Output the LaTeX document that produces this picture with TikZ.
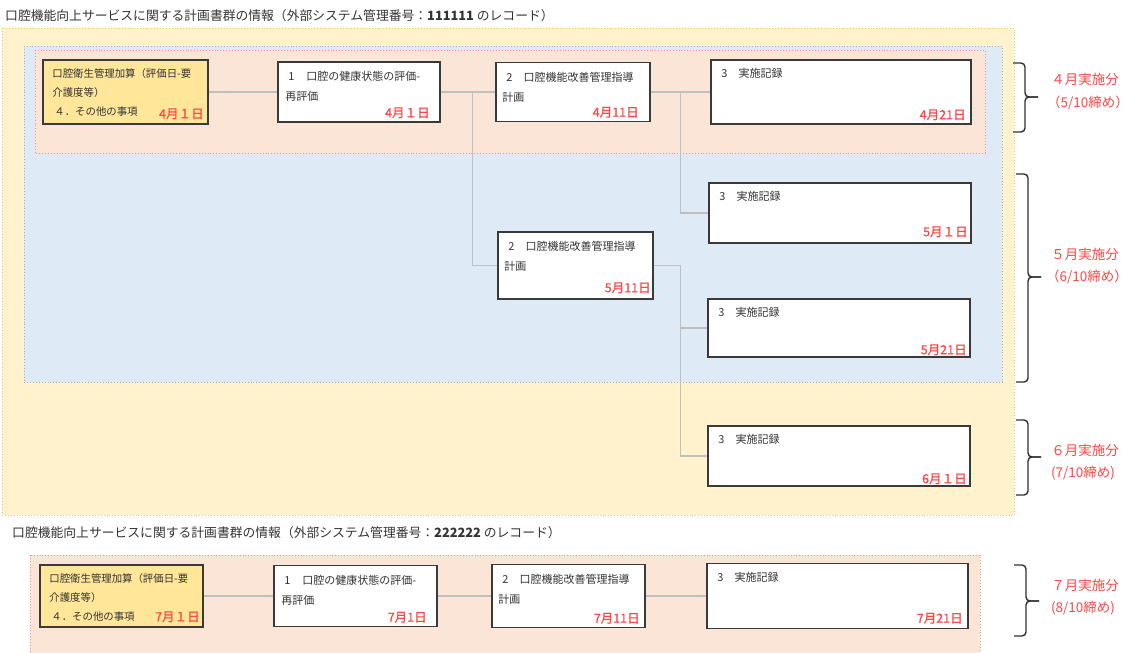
\documentclass[tikz,border=0pt]{standalone}
\usepackage{fontspec}
\setmainfont{Noto Sans CJK JP}
\newfontfamily\datefont{Noto Sans CJK JP}[FakeBold=0.6]
\definecolor{yregion}{HTML}{FFF2CC}
\definecolor{yregionb}{HTML}{F4C47C}
\definecolor{bregion}{HTML}{DEEAF6}
\definecolor{bregionb}{HTML}{9DB4CF}
\definecolor{pregion}{HTML}{FBE5D6}
\definecolor{pregionb}{HTML}{FF8F8F}
\definecolor{ynode}{HTML}{FFE699}
\definecolor{boxedge}{HTML}{3A3A3A}
\definecolor{connc}{HTML}{BFBFBF}
\definecolor{redc}{HTML}{FF4545}
\definecolor{txtc}{HTML}{333333}
\definecolor{bracec}{HTML}{303030}
\newcommand{\curlyb}[5]{% name, x, top, tip, bottom
  \coordinate (#1t) at (#2,#3);
  \coordinate (#1m) at (#2+25,#4);
  \coordinate (#1b) at (#2,#5);
  \draw[brc] (#1t) -| ([xshift=-13pt]#1m) -- (#1m);
  \draw[brc] (#1m) -- ([xshift=-13pt]#1m) |- (#1b);
}
\begin{document}
\begin{tikzpicture}[x=1pt,y=-1pt,
  region/.style={dotted, line width=0.9pt},
  wbox/.style={draw=boxedge, line width=1.6pt, fill=white, inner sep=0pt},
  ybox/.style={wbox, fill=ynode},
  conn/.style={draw=connc, line width=1.3pt},
  txt/.style={font=\fontsize{11}{20}\selectfont, text=txtc, align=left, inner sep=0pt, anchor=north west},
  ytxt/.style={txt, font=\fontsize{10.4}{19}\selectfont},
  datel/.style={font=\datefont\fontsize{12.5}{14}\selectfont, text=redc, inner sep=0pt, anchor=east},
  brc/.style={draw=bracec, line width=1.4pt, rounded corners=4pt},
  lbl/.style={font=\fontsize{13.5}{16}\selectfont, text=redc, inner sep=0pt},
  ttl/.style={font=\fontsize{12.8}{15}\selectfont, text=txtc, anchor=west, inner sep=0pt}
]
\useasboundingbox (0,0) rectangle (1136,653);
\clip (0,0) rectangle (1136,653);

% regions
\draw[region, draw=yregionb, fill=yregion] (2,28) rectangle (1014,515);
\draw[region, draw=bregionb, fill=bregion] (24,46) rectangle (1002,382);
\draw[region, draw=pregionb, fill=pregion] (35,50) rectangle (985,153);
\draw[region, draw=pregionb, fill=pregion] (30,555) rectangle (980,660);

% titles
\node[ttl] (t1) at (5,16) {口腔機能向上サービスに関する計画書群の情報（外部システム管理番号：\textbf{111111} のレコード）};
\node[ttl] (t2) at (12,533) {口腔機能向上サービスに関する計画書群の情報（外部システム管理番号：\textbf{222222} のレコード）};

% upper boxes
\node[ybox, minimum width=165pt, minimum height=64pt] (y1) at (125.5,92) {};
\node[wbox, minimum width=162pt, minimum height=60pt] (b1) at (359,92) {};
\node[wbox, minimum width=154pt, minimum height=59pt] (b2) at (573,92) {};
\node[wbox, minimum width=260pt, minimum height=64pt] (b3) at (841,92) {};
\node[wbox, minimum width=262pt, minimum height=60pt] (b3b) at (840,213) {};
\node[wbox, minimum width=155pt, minimum height=67pt] (b2b) at (575.5,265.5) {};
\node[wbox, minimum width=262pt, minimum height=58pt] (b3c) at (839,328) {};
\node[wbox, minimum width=262pt, minimum height=60pt] (b3d) at (839,456) {};

% lower boxes
\node[ybox, minimum width=163pt, minimum height=62pt] (y2) at (121.5,596) {};
\node[wbox, minimum width=163pt, minimum height=61pt] (c1) at (355.5,596) {};
\node[wbox, minimum width=153pt, minimum height=63pt] (c2) at (568.5,596) {};
\node[wbox, minimum width=261pt, minimum height=65pt] (c3) at (837.5,596) {};

% box texts
\node[ytxt] (y1x) at ([shift={(10,9)}]y1.north west) {口腔衛生管理加算（評価日-要\\介護度等）\\\hspace{2pt}４．その他の事項};
\node[txt] (b1x) at ([shift={(8,10)}]b1.north west) {\hspace{3pt}1\hspace{12pt}口腔の健康状態の評価-\\再評価};
\node[txt] (b2x) at ([shift={(7,10)}]b2.north west) {\hspace{4pt}2\hspace{11pt}口腔機能改善管理指導\\計画};
\node[txt] (b3x) at ([shift={(11,9)}]b3.north west) {3\hspace{11pt}実施記録};
\node[txt] (b3bx) at ([shift={(11,9)}]b3b.north west) {3\hspace{11pt}実施記録};
\node[txt] (b2bx) at ([shift={(7,10)}]b2b.north west) {\hspace{4pt}2\hspace{11pt}口腔機能改善管理指導\\計画};
\node[txt] (b3cx) at ([shift={(11,9)}]b3c.north west) {3\hspace{11pt}実施記録};
\node[txt] (b3dx) at ([shift={(11,9)}]b3d.north west) {3\hspace{11pt}実施記録};
\node[ytxt] (y2x) at ([shift={(10,9)}]y2.north west) {口腔衛生管理加算（評価日-要\\介護度等）\\\hspace{2pt}４．その他の事項};
\node[txt] (c1x) at ([shift={(8,10)}]c1.north west) {\hspace{3pt}1\hspace{12pt}口腔の健康状態の評価-\\再評価};
\node[txt] (c2x) at ([shift={(7,10)}]c2.north west) {\hspace{4pt}2\hspace{11pt}口腔機能改善管理指導\\計画};
\node[txt] (c3x) at ([shift={(11,9)}]c3.north west) {3\hspace{11pt}実施記録};

% dates
\node[datel] (y1d) at ([shift={(-5,-11)}]y1.south east) {4月１日};
\node[datel] (b1d) at ([shift={(-11,-10)}]b1.south east) {4月１日};
\node[datel] (b2d) at ([shift={(-12,-10)}]b2.south east) {4月11日};
\node[datel] (b3d1) at ([shift={(-6,-10)}]b3.south east) {4月21日};
\node[datel] (b3bd) at ([shift={(-4,-12)}]b3b.south east) {5月１日};
\node[datel] (b2bd) at ([shift={(-3,-12)}]b2b.south east) {5月11日};
\node[datel] (b3cd) at ([shift={(-4,-8)}]b3c.south east) {5月21日};
\node[datel] (b3dd) at ([shift={(-4,-8)}]b3d.south east) {6月１日};
\node[datel] (y2d) at ([shift={(-4,-11)}]y2.south east) {7月１日};
\node[datel] (c1d) at ([shift={(-11,-10)}]c1.south east) {7月1日};
\node[datel] (c2d) at ([shift={(-6,-10)}]c2.south east) {7月11日};
\node[datel] (c3d) at ([shift={(-6,-11)}]c3.south east) {7月21日};

% connectors
\draw[conn] (y1.east) -- (b1.west);
\draw[conn] (b1.east) -- (b2.west);
\draw[conn] (b1.east) -- ++(32,0) |- (b2b.west);
\draw[conn] (b2.east) -- (b3.west);
\draw[conn] (b2.east) -- ++(30,0) |- (b3b.west);
\draw[conn] (b2b.east) -- ++(27,0) |- (b3c.west);
\draw[conn] (b2b.east) -- ++(27,0) |- (b3d.west);
\draw[conn] (y2.east) -- (c1.west);
\draw[conn] (c1.east) -- (c2.west);
\draw[conn] (c2.east) -- (c3.west);

% braces
\curlyb{br4}{1013}{63}{97}{132}
\curlyb{br5}{1016}{174}{277}{382}
\curlyb{br6}{1016}{420}{457}{495}
\curlyb{br7}{1014}{565}{601}{636}

% right labels
\node[lbl] (l4a) at (1085,79) {４月実施分};
\node[lbl] (l4b) at (1088,103) {（5/10締め）};
\node[lbl] (l5a) at (1085,254) {５月実施分};
\node[lbl] (l5b) at (1087,277) {（6/10締め）};
\node[lbl] (l6a) at (1085,450) {６月実施分};
\node[lbl] (l6b) at (1083,473) {(7/10締め)};
\node[lbl] (l7a) at (1085,585) {７月実施分};
\node[lbl] (l7b) at (1083,608) {(8/10締め)};
\end{tikzpicture}
\end{document}
